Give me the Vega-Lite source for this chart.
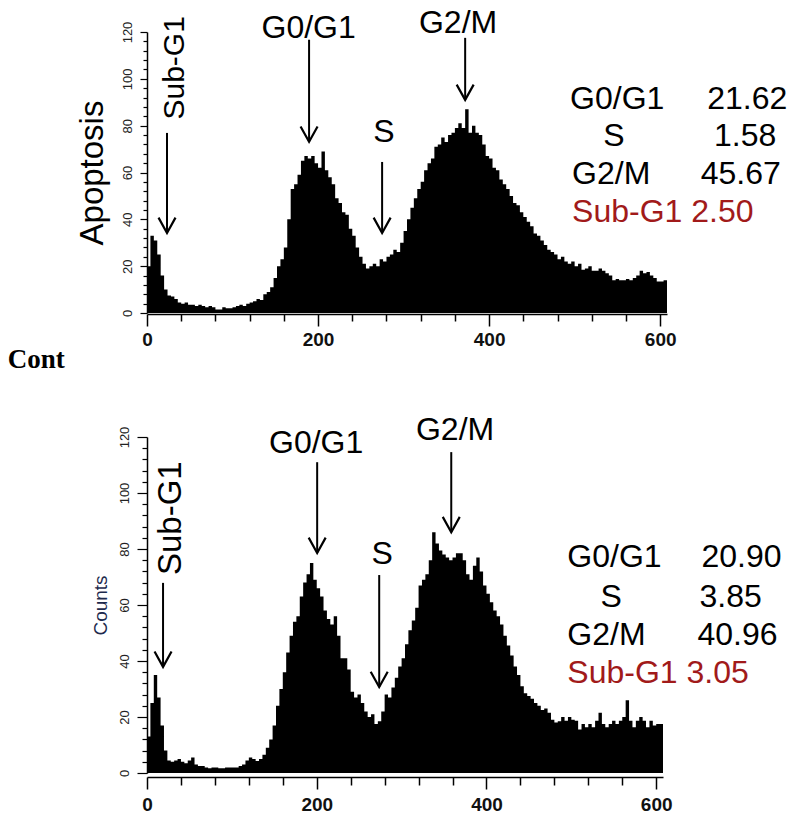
{
  "$schema": "https://vega.github.io/schema/vega-lite/v6.json",
  "background": "white",
  "padding": {"left": 7, "top": 6, "right": 5, "bottom": 5},
  "bounds": "flush",
  "spacing": 124,
  "config": {"view": {"stroke": null}, "font": "Liberation Sans"},
  "datasets": {
    "apop_hist": [
      {"x":0,"y":20},{"x":4,"y":33},{"x":8,"y":31},{"x":12,"y":25},{"x":16,"y":16},{"x":20,"y":10},{"x":24,"y":7.5},{"x":28,"y":7},{"x":32,"y":6},{"x":36,"y":4.5},
      {"x":40,"y":4},{"x":44,"y":4.5},{"x":48,"y":3.5},{"x":52,"y":3.5},{"x":56,"y":3},{"x":60,"y":3.5},{"x":64,"y":3},{"x":68,"y":2.5},{"x":72,"y":3},{"x":76,"y":2.5},
      {"x":80,"y":1.5},{"x":84,"y":1.5},{"x":88,"y":2.5},{"x":92,"y":2},{"x":96,"y":2},{"x":100,"y":2.5},{"x":104,"y":3},{"x":108,"y":3.5},{"x":112,"y":3},{"x":116,"y":4},
      {"x":120,"y":4.5},{"x":124,"y":5},{"x":128,"y":6},{"x":132,"y":5.5},{"x":136,"y":8},{"x":140,"y":9},{"x":144,"y":11},{"x":148,"y":15},{"x":152,"y":20},{"x":156,"y":23},
      {"x":160,"y":28},{"x":164,"y":40},{"x":168,"y":53},{"x":172,"y":55},{"x":176,"y":59},{"x":180,"y":65},{"x":184,"y":67},{"x":188,"y":66},{"x":192,"y":67},{"x":196,"y":64},
      {"x":200,"y":62},{"x":204,"y":69},{"x":208,"y":61},{"x":212,"y":58},{"x":216,"y":55},{"x":220,"y":49},{"x":224,"y":47},{"x":228,"y":43},{"x":232,"y":42},{"x":236,"y":36},
      {"x":240,"y":33},{"x":244,"y":28},{"x":248,"y":24},{"x":252,"y":21},{"x":256,"y":19},{"x":260,"y":20},{"x":264,"y":21},{"x":268,"y":20},{"x":272,"y":23},{"x":276,"y":22},
      {"x":280,"y":24},{"x":284,"y":25},{"x":288,"y":27},{"x":292,"y":26},{"x":296,"y":30},{"x":300,"y":35},{"x":304,"y":40},{"x":308,"y":45},{"x":312,"y":49},{"x":316,"y":53},
      {"x":320,"y":56},{"x":324,"y":61},{"x":328,"y":64},{"x":332,"y":66},{"x":336,"y":71},{"x":340,"y":72},{"x":344,"y":75},{"x":348,"y":73},{"x":352,"y":76},{"x":356,"y":77},
      {"x":360,"y":79},{"x":364,"y":81},{"x":368,"y":79},{"x":372,"y":87},{"x":376,"y":77},{"x":380,"y":80},{"x":384,"y":77},{"x":388,"y":76},{"x":392,"y":72},{"x":396,"y":67},
      {"x":400,"y":66},{"x":404,"y":62},{"x":408,"y":61},{"x":412,"y":57},{"x":416,"y":55},{"x":420,"y":53},{"x":424,"y":50},{"x":428,"y":47},{"x":432,"y":46},{"x":436,"y":43},
      {"x":440,"y":41},{"x":444,"y":39},{"x":448,"y":37},{"x":452,"y":34},{"x":456,"y":33},{"x":460,"y":31},{"x":464,"y":29},{"x":468,"y":27},{"x":472,"y":26},{"x":476,"y":25},
      {"x":480,"y":23},{"x":484,"y":24},{"x":488,"y":22},{"x":492,"y":21},{"x":496,"y":22},{"x":500,"y":20},{"x":504,"y":21},{"x":508,"y":18.5},{"x":512,"y":19},{"x":516,"y":20},
      {"x":520,"y":18},{"x":524,"y":18},{"x":528,"y":19},{"x":532,"y":18},{"x":536,"y":17},{"x":540,"y":16},{"x":544,"y":14},{"x":548,"y":14.5},{"x":552,"y":14},{"x":556,"y":14},
      {"x":560,"y":14.5},{"x":564,"y":14},{"x":568,"y":15},{"x":572,"y":16},{"x":576,"y":18},{"x":580,"y":17},{"x":584,"y":17.5},{"x":588,"y":16},{"x":592,"y":15},{"x":596,"y":13.5},
      {"x":600,"y":13.5},{"x":604,"y":14},{"x":608,"y":14}
    ],
    "cont_hist": [
      {"x":0,"y":13},{"x":4,"y":25},{"x":8,"y":35},{"x":12,"y":27},{"x":16,"y":17},{"x":20,"y":8},{"x":24,"y":4.5},{"x":28,"y":4},{"x":32,"y":4.5},{"x":36,"y":5},
      {"x":40,"y":4},{"x":44,"y":3.5},{"x":48,"y":4.5},{"x":52,"y":5.5},{"x":56,"y":3},{"x":60,"y":2.5},{"x":64,"y":2.5},{"x":68,"y":2},{"x":72,"y":1.7},{"x":76,"y":2},
      {"x":80,"y":2},{"x":84,"y":1.7},{"x":88,"y":1.7},{"x":92,"y":2},{"x":96,"y":2},{"x":100,"y":2},{"x":104,"y":2},{"x":108,"y":2.5},{"x":112,"y":3},{"x":116,"y":4.5},
      {"x":120,"y":5.5},{"x":124,"y":5},{"x":128,"y":4.3},{"x":132,"y":5},{"x":136,"y":6.5},{"x":140,"y":9},{"x":144,"y":12},{"x":148,"y":17},{"x":152,"y":24},{"x":156,"y":30},
      {"x":160,"y":36},{"x":164,"y":43},{"x":168,"y":49},{"x":172,"y":54},{"x":176,"y":56},{"x":180,"y":63},{"x":184,"y":68},{"x":188,"y":71},{"x":192,"y":75},{"x":196,"y":69},
      {"x":200,"y":66},{"x":204,"y":63},{"x":208,"y":58},{"x":212,"y":55},{"x":216,"y":53},{"x":220,"y":56},{"x":224,"y":49},{"x":228,"y":41},{"x":232,"y":41},{"x":236,"y":37},
      {"x":240,"y":29},{"x":244,"y":27},{"x":248,"y":28},{"x":252,"y":25},{"x":256,"y":22},{"x":260,"y":20},{"x":264,"y":21},{"x":268,"y":17.5},{"x":272,"y":18.5},{"x":276,"y":22},
      {"x":280,"y":28},{"x":284,"y":27},{"x":288,"y":30.5},{"x":292,"y":34},{"x":296,"y":38},{"x":300,"y":41},{"x":304,"y":46},{"x":308,"y":51},{"x":312,"y":54.5},{"x":316,"y":59},
      {"x":320,"y":67},{"x":324,"y":69},{"x":328,"y":71},{"x":332,"y":76},{"x":336,"y":86},{"x":340,"y":82},{"x":344,"y":79.5},{"x":348,"y":78},{"x":352,"y":77},{"x":356,"y":76},
      {"x":360,"y":77},{"x":364,"y":78.5},{"x":368,"y":78.5},{"x":372,"y":76},{"x":376,"y":71},{"x":380,"y":69},{"x":384,"y":74},{"x":388,"y":77},{"x":392,"y":72},{"x":396,"y":67},
      {"x":400,"y":64},{"x":404,"y":61},{"x":408,"y":58},{"x":412,"y":56},{"x":416,"y":53},{"x":420,"y":49},{"x":424,"y":45.5},{"x":428,"y":42},{"x":432,"y":38},{"x":436,"y":35},
      {"x":440,"y":31},{"x":444,"y":28.5},{"x":448,"y":27.5},{"x":452,"y":26.5},{"x":456,"y":25},{"x":460,"y":24},{"x":464,"y":22.5},{"x":468,"y":23},{"x":472,"y":21.5},{"x":476,"y":19},
      {"x":480,"y":18},{"x":484,"y":18.5},{"x":488,"y":20},{"x":492,"y":18.7},{"x":496,"y":20},{"x":500,"y":19},{"x":504,"y":18.7},{"x":508,"y":15.5},{"x":512,"y":17.5},{"x":516,"y":16.3},
      {"x":520,"y":17.5},{"x":524,"y":16.3},{"x":528,"y":18.7},{"x":532,"y":21.5},{"x":536,"y":17.5},{"x":540,"y":16.3},{"x":544,"y":17.5},{"x":548,"y":18.7},{"x":552,"y":17.5},{"x":556,"y":18.7},
      {"x":560,"y":20},{"x":564,"y":26},{"x":568,"y":18.7},{"x":572,"y":16.3},{"x":576,"y":18.7},{"x":580,"y":20},{"x":584,"y":18.7},{"x":588,"y":16.3},{"x":592,"y":18.7},{"x":596,"y":17},
      {"x":600,"y":17.5},{"x":604,"y":17.5},{"x":608,"y":17.5}
    ],
    "apop_arrows": [
      {"x":23.4,"y":34.2,"top":76.9},{"x":189.5,"y":73.1,"top":116.7},{"x":274.9,"y":34.2,"top":64.5},{"x":372,"y":91,"top":117.5}
    ],
    "cont_arrows": [
      {"x":18.9,"y":37.9,"top":67.9},{"x":200.5,"y":78.6,"top":111},{"x":273.6,"y":30.7,"top":70.7},{"x":358.5,"y":86,"top":114.6}
    ],
    "apop_text": [
      {"x":189,"y":121.8,"label":"G0/G1","kind":"peak"},
      {"x":277,"y":77.4,"label":"S","kind":"peak"},
      {"x":363.7,"y":124,"label":"G2/M","kind":"peak"},
      {"x":546,"y":75.6,"label":"S","kind":"peak"},
      {"x":32.7,"y":104.7,"label":"Sub-G1","kind":"vert"},
      {"x":494.7,"y":91.5,"label":"G0/G1","kind":"stat"},
      {"x":655,"y":91.5,"label":"21.62","kind":"stat"},
      {"x":663,"y":75.6,"label":"1.58","kind":"stat"},
      {"x":497,"y":59.4,"label":"G2/M","kind":"stat"},
      {"x":647.4,"y":59.4,"label":"45.67","kind":"stat"},
      {"x":497,"y":43.2,"label":"Sub-G1 2.50","kind":"sub"}
    ],
    "cont_text": [
      {"x":199.3,"y":117.9,"label":"G0/G1","kind":"peak"},
      {"x":277,"y":78.2,"label":"S","kind":"peak"},
      {"x":363,"y":122.5,"label":"G2/M","kind":"peak"},
      {"x":547,"y":62.9,"label":"S","kind":"peak"},
      {"x":28.3,"y":91,"label":"Sub-G1","kind":"vert"},
      {"x":495.3,"y":77.1,"label":"G0/G1","kind":"stat"},
      {"x":653.3,"y":77.1,"label":"20.90","kind":"stat"},
      {"x":651,"y":62.9,"label":"3.85","kind":"stat"},
      {"x":495.3,"y":49.3,"label":"G2/M","kind":"stat"},
      {"x":648.6,"y":49.3,"label":"40.96","kind":"stat"},
      {"x":495.3,"y":35.7,"label":"Sub-G1 3.05","kind":"sub"},
      {"x":-164,"y":147.5,"label":"Cont","kind":"cont"}
    ]
  },
  "vconcat": [
    {
      "width": 520,
      "height": 281,
      "encoding": {
        "x": {"field": "x", "type": "quantitative",
          "scale": {"domain": [0, 608], "nice": false, "zero": false},
          "axis": {"title": null, "grid": false,
            "values": [0,40,80,120,160,200,240,280,320,360,400,440,480,520,560,600],
            "labelExpr": "datum.value % 200 === 0 ? datum.label : ''",
            "labelOverlap": false, "labelFlush": false,
            "tickSize": {"condition": {"test": "datum.value % 200 === 0", "value": 12}, "value": 7},
            "tickColor": "black", "tickWidth": 1.5, "domainColor": "black", "domainWidth": 1.5,
            "labelFont": "Liberation Sans", "labelFontWeight": "bold", "labelFontSize": 19, "labelColor": "#111",
            "labelPadding": 4, "offset": 1}},
        "y": {"field": "y", "type": "quantitative",
          "scale": {"domain": [0, 120], "nice": false},
          "axis": {"title": "Apoptosis", "grid": false,
            "values": [0,4,8,12,16,20,24,28,32,36,40,44,48,52,56,60,64,68,72,76,80,84,88,92,96,100,104,108,112,116,120],
            "labelExpr": "datum.value % 20 === 0 ? datum.label : ''",
            "labelOverlap": false, "labelFlush": false,
            "tickSize": {"condition": {"test": "datum.value % 20 === 0", "value": 7}, "value": 4},
            "tickColor": "black", "tickWidth": 1.2, "domainColor": "black", "domainWidth": 1.5,
            "labelAngle": 270, "labelAlign": "center", "labelBaseline": "bottom",
            "labelFont": "Liberation Sans", "labelFontSize": 13, "labelColor": "#222", "labelPadding": 6,
            "titleFont": "Liberation Sans", "titleFontSize": 33, "titleFontWeight": "normal", "titleColor": "black", "titlePadding": 12}}
      },
      "layer": [
        {"data": {"name": "apop_hist"}, "mark": {"type": "area", "interpolate": "step-after", "color": "black", "opacity": 1}},
        {"data": {"name": "apop_arrows"}, "mark": {"type": "rule", "color": "black", "strokeWidth": 2}, "encoding": {"y2": {"field": "top"}}},
        {"data": {"name": "apop_arrows"}, "mark": {"type": "point", "shape": "M-1,-1.8L0,0L1,-1.8", "filled": false, "size": 289, "strokeWidth": 2.2, "color": "black", "opacity": 1}},
        {"data": {"name": "apop_text"}, "transform": [{"filter": "datum.kind === 'peak'"}],
          "mark": {"type": "text", "font": "Liberation Sans", "fontSize": 32, "align": "center", "baseline": "middle", "color": "black"},
          "encoding": {"text": {"field": "label"}}},
        {"data": {"name": "apop_text"}, "transform": [{"filter": "datum.kind === 'vert'"}],
          "mark": {"type": "text", "font": "Liberation Sans", "fontSize": 30, "angle": 270, "align": "center", "baseline": "middle", "color": "black"},
          "encoding": {"text": {"field": "label"}}},
        {"data": {"name": "apop_text"}, "transform": [{"filter": "datum.kind === 'stat'"}],
          "mark": {"type": "text", "font": "Liberation Sans", "fontSize": 32, "align": "left", "baseline": "middle", "color": "black"},
          "encoding": {"text": {"field": "label"}}},
        {"data": {"name": "apop_text"}, "transform": [{"filter": "datum.kind === 'sub'"}],
          "mark": {"type": "text", "font": "Liberation Sans", "fontSize": 32, "align": "left", "baseline": "middle", "color": "#a11a1a"},
          "encoding": {"text": {"field": "label"}}}
      ]
    },
    {
      "width": 516,
      "height": 336,
      "encoding": {
        "x": {"field": "x", "type": "quantitative",
          "scale": {"domain": [0, 608], "nice": false, "zero": false},
          "axis": {"title": null, "grid": false,
            "values": [0,40,80,120,160,200,240,280,320,360,400,440,480,520,560,600],
            "labelExpr": "datum.value % 200 === 0 ? datum.label : ''",
            "labelOverlap": false, "labelFlush": false,
            "tickSize": {"condition": {"test": "datum.value % 200 === 0", "value": 12}, "value": 8},
            "tickColor": "black", "tickWidth": 1.5, "domainColor": "black", "domainWidth": 1.5,
            "labelFont": "Liberation Sans", "labelFontWeight": "bold", "labelFontSize": 19, "labelColor": "#111",
            "labelPadding": 6, "offset": 4}},
        "y": {"field": "y", "type": "quantitative",
          "scale": {"domain": [0, 120], "nice": false},
          "axis": {"title": "Counts", "grid": false,
            "values": [0,4,8,12,16,20,24,28,32,36,40,44,48,52,56,60,64,68,72,76,80,84,88,92,96,100,104,108,112,116,120],
            "labelExpr": "datum.value % 20 === 0 ? datum.label : ''",
            "labelOverlap": false, "labelFlush": false,
            "tickSize": {"condition": {"test": "datum.value % 20 === 0", "value": 10}, "value": 5},
            "tickColor": "black", "tickWidth": 1.2, "domainColor": "black", "domainWidth": 1.5,
            "labelAngle": 270, "labelAlign": "center", "labelBaseline": "bottom",
            "labelFont": "Liberation Sans", "labelFontSize": 13, "labelColor": "#222", "labelPadding": 6,
            "titleFont": "Liberation Sans", "titleFontSize": 19, "titleFontWeight": "normal", "titleColor": "#1d2a4d", "titlePadding": 8}}
      },
      "layer": [
        {"data": {"name": "cont_hist"}, "mark": {"type": "area", "interpolate": "step-after", "color": "black", "opacity": 1}},
        {"data": {"name": "cont_arrows"}, "mark": {"type": "rule", "color": "black", "strokeWidth": 2}, "encoding": {"y2": {"field": "top"}}},
        {"data": {"name": "cont_arrows"}, "mark": {"type": "point", "shape": "M-1,-1.8L0,0L1,-1.8", "filled": false, "size": 289, "strokeWidth": 2.2, "color": "black", "opacity": 1}},
        {"data": {"name": "cont_text"}, "transform": [{"filter": "datum.kind === 'peak'"}],
          "mark": {"type": "text", "font": "Liberation Sans", "fontSize": 32, "align": "center", "baseline": "middle", "color": "black"},
          "encoding": {"text": {"field": "label"}}},
        {"data": {"name": "cont_text"}, "transform": [{"filter": "datum.kind === 'vert'"}],
          "mark": {"type": "text", "font": "Liberation Sans", "fontSize": 33, "angle": 270, "align": "center", "baseline": "middle", "color": "black"},
          "encoding": {"text": {"field": "label"}}},
        {"data": {"name": "cont_text"}, "transform": [{"filter": "datum.kind === 'stat'"}],
          "mark": {"type": "text", "font": "Liberation Sans", "fontSize": 32, "align": "left", "baseline": "middle", "color": "black"},
          "encoding": {"text": {"field": "label"}}},
        {"data": {"name": "cont_text"}, "transform": [{"filter": "datum.kind === 'sub'"}],
          "mark": {"type": "text", "font": "Liberation Sans", "fontSize": 32, "align": "left", "baseline": "middle", "color": "#a11a1a"},
          "encoding": {"text": {"field": "label"}}},
        {"data": {"name": "cont_text"}, "transform": [{"filter": "datum.kind === 'cont'"}],
          "mark": {"type": "text", "font": "Liberation Serif", "fontSize": 27, "fontWeight": "bold", "align": "left", "baseline": "middle", "color": "black"},
          "encoding": {"text": {"field": "label"}}}
      ]
    }
  ]
}
